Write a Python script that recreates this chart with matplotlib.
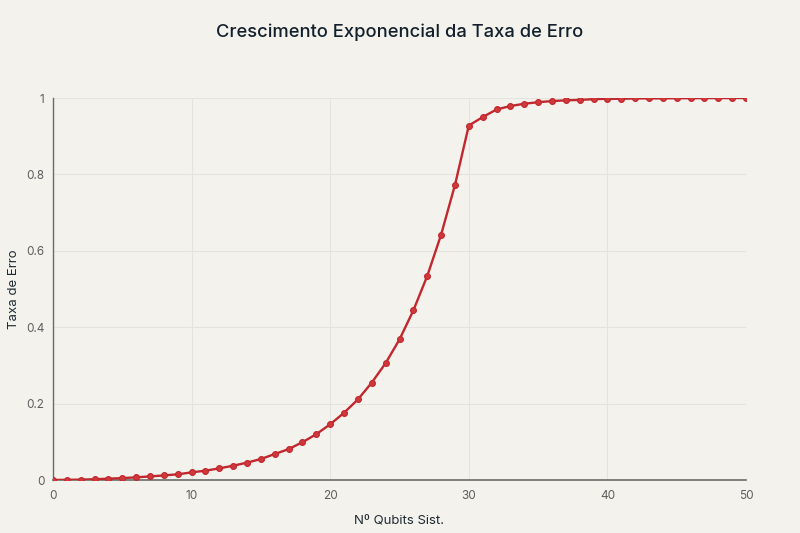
import matplotlib.pyplot as plt

# data
qubits = list(range(0, 51))
error_rate = [
    0.0, 0.0005, 0.001, 0.002, 0.0035, 0.005, 0.007, 0.0095, 0.012, 0.015,
    0.020, 0.0245, 0.0305, 0.0375, 0.0455, 0.055, 0.068, 0.081, 0.099, 0.120,
    0.146, 0.176, 0.211, 0.255, 0.306, 0.368, 0.444, 0.534, 0.642, 0.772,
    0.928, 0.950, 0.970, 0.979, 0.985, 0.989, 0.992, 0.994, 0.995, 0.997,
    0.998, 0.998, 0.999, 0.999, 0.999, 0.9995, 0.9995, 0.9997, 0.9998, 0.9999,
    1.0,
]
x_ticks = [0, 10, 20, 30, 40, 50]
y_ticks = [0, 0.2, 0.4, 0.6, 0.8, 1]
y_tick_labels = ["0", "0.2", "0.4", "0.6", "0.8", "1"]

bg = "#f3f2ed"
plt.rcParams["font.family"] = ["Inter", "DejaVu Sans"]

fig = plt.figure(figsize=(8, 5.33), dpi=100)
fig.patch.set_facecolor(bg)
ax = fig.add_axes([0.06625, 0.0994, 0.86625, 0.7167])
ax.set_facecolor(bg)

ax.plot(qubits, error_rate, color="#c1272d", linewidth=1.7, marker="o",
        markersize=4.2, markerfacecolor="#d0383c", markeredgecolor="#c1272d",
        markeredgewidth=0.8, zorder=3)

ax.set_xlim(0, 50)
ax.set_ylim(0, 1)
ax.set_xticks(x_ticks)
ax.set_yticks(y_ticks, y_tick_labels)
ax.grid(True, color="#e4e3de", linewidth=0.8)
ax.set_axisbelow(True)

for s in ["top", "right"]:
    ax.spines[s].set_visible(False)
ax.spines["left"].set_color("#6b6b6b")
ax.spines["left"].set_linewidth(1.0)
ax.spines["bottom"].set_color("#6b6b6b")
ax.spines["bottom"].set_linewidth(1.2)

ax.tick_params(axis="both", colors="#6b6b6b", labelsize=8.5, length=0)
ax.tick_params(axis="x", pad=7)
ax.tick_params(axis="y", pad=6)
for lbl in ax.get_xticklabels() + ax.get_yticklabels():
    lbl.set_color("#5e5e5e")

ax.set_xlabel("Nº Qubits Sist.", fontsize=9.5, color="#1f2a33")
ax.set_ylabel("Taxa de Erro", fontsize=9.5, color="#1f2a33")
ax.xaxis.set_label_coords(0.5, -0.105)
ax.yaxis.set_label_coords(-0.0563, 0.5)
ax.xaxis.label.set_va("center")
ax.yaxis.label.set_va("center")

fig.text(0.5, 0.94, "Crescimento Exponencial da Taxa de Erro",
         ha="center", va="center", fontsize=13.2, fontweight="medium",
         color="#13202b")

fig.savefig("out.png", dpi=100, facecolor=bg)
